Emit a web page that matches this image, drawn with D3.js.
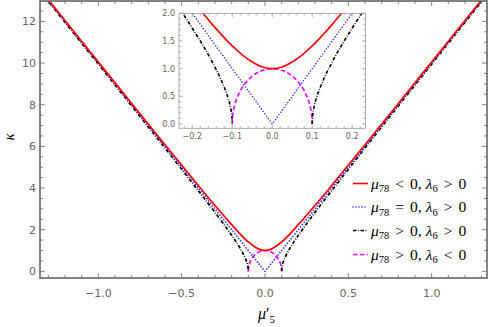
<!DOCTYPE html>
<html>
<head>
<meta charset="utf-8">
<script src="https://cdn.jsdelivr.net/npm/d3@7"></script>
<style>
  body { margin: 0; background: #fff; }
  .tick-label { font-family: 'DejaVu Sans', sans-serif; fill: #666; }
  .math { font-family: 'Liberation Serif', 'DejaVu Serif', serif; fill: #000; }
</style>
</head>
<body>
<div id="chart"></div>
<script>
// values: kappa against mu'_5 for four cases
var redMu = [-1.35, -1.0, -0.8, -0.6, -0.4, -0.3, -0.2, -0.15, -0.1, -0.075, -0.05, -0.025, 0,
             0.025, 0.05, 0.075, 0.1, 0.15, 0.2, 0.3, 0.4, 0.6, 0.8, 1.0, 1.35];
var redKappa = [13.54, 10.05, 8.06, 6.08, 4.12, 3.16, 2.24, 1.80, 1.41, 1.25, 1.12, 1.03, 1.0,
                1.03, 1.12, 1.25, 1.41, 1.80, 2.24, 3.16, 4.12, 6.08, 8.06, 10.05, 13.54];

var blueMu = [-1.35, 0, 1.35];
var blueKappa = [13.5, 0, 13.5];

var blackLeftMu = [-1.35, -1.0, -0.8, -0.6, -0.4, -0.3, -0.25, -0.2, -0.175, -0.15, -0.13, -0.12, -0.11, -0.105, -0.101, -0.1005, -0.1002, -0.1];
var blackLeftKappa = [13.46, 9.95, 7.94, 5.92, 3.87, 2.83, 2.29, 1.73, 1.44, 1.12, 0.83, 0.66, 0.46, 0.32, 0.142, 0.100, 0.063, 0];
var blackRightMu = [0.1, 0.1002, 0.1005, 0.101, 0.105, 0.11, 0.12, 0.13, 0.15, 0.175, 0.2, 0.25, 0.3, 0.4, 0.6, 0.8, 1.0, 1.35];
var blackRightKappa = [0, 0.063, 0.100, 0.142, 0.32, 0.46, 0.66, 0.83, 1.12, 1.44, 1.73, 2.29, 2.83, 3.87, 5.92, 7.94, 9.95, 13.46];

var magentaMu = [-0.1, -0.0998, -0.0995, -0.099, -0.095, -0.09, -0.08, -0.07, -0.06, -0.05, -0.04, -0.03, -0.02, -0.01, 0,
                 0.01, 0.02, 0.03, 0.04, 0.05, 0.06, 0.07, 0.08, 0.09, 0.095, 0.099, 0.0995, 0.0998, 0.1];
var magentaKappa = [0, 0.063, 0.100, 0.141, 0.312, 0.436, 0.600, 0.714, 0.800, 0.866, 0.917, 0.954, 0.980, 0.995, 1.0,
                    0.995, 0.980, 0.954, 0.917, 0.866, 0.800, 0.714, 0.600, 0.436, 0.312, 0.141, 0.100, 0.063, 0];

var mainXTicks = [-1.0, -0.5, 0.0, 0.5, 1.0];
var mainYTicks = [0, 2, 4, 6, 8, 10, 12];
var insetXTicks = [-0.2, -0.1, 0.0, 0.1, 0.2];
var insetYTicks = [0.0, 0.5, 1.0, 1.5, 2.0];

var legendLabels = [
  { mu: '78', rel: '<', rhs: '0', lam: '6', rel2: '>' },
  { mu: '78', rel: '=', rhs: '0', lam: '6', rel2: '>' },
  { mu: '78', rel: '>', rhs: '0', lam: '6', rel2: '>' },
  { mu: '78', rel: '>', rhs: '0', lam: '6', rel2: '<' }
];

var width = 491, height = 327;

var series = [
  { mu: redMu, k: redKappa, color: '#ff0000', dash: null, cap: 'butt', curve: d3.curveMonotoneX },
  { mu: blueMu, k: blueKappa, color: '#2b2bff', dash: '0,3', cap: 'round', curve: d3.curveLinear },
  { mu: blackLeftMu, k: blackLeftKappa, color: '#000', dash: '3.5,1.6,0.8,1.6', cap: 'butt', curve: d3.curveMonotoneX },
  { mu: blackRightMu, k: blackRightKappa, color: '#000', dash: '3.5,1.6,0.8,1.6', cap: 'butt', curve: d3.curveMonotoneX },
  { mu: magentaMu, k: magentaKappa, color: '#ff00ff', dash: '4.5,2.5', cap: 'butt', curve: d3.curveMonotoneX }
];

var svg = d3.select('#chart').append('svg')
  .attr('width', width)
  .attr('height', height);

// draw a framed panel with ticks on all four sides
function panel(opt) {
  var x = d3.scaleLinear().domain(opt.xDomain).range([opt.left, opt.right]);
  var y = d3.scaleLinear().domain(opt.yDomain).range([opt.bottom, opt.top]);
  var g = svg.append('g');

  g.append('rect')
    .attr('x', opt.left).attr('y', opt.top)
    .attr('width', opt.right - opt.left).attr('height', opt.bottom - opt.top)
    .attr('fill', '#fff');

  var defs = g.append('defs');
  defs.append('clipPath').attr('id', opt.id)
    .append('rect')
    .attr('x', opt.left).attr('y', opt.top)
    .attr('width', opt.right - opt.left).attr('height', opt.bottom - opt.top);

  var plot = g.append('g').attr('clip-path', 'url(#' + opt.id + ')');
  // draw order: dashed first, red on top
  [4, 3, 2, 1, 0].forEach(function (i) {
    var s = series[i];
    var line = d3.line()
      .x(function (d) { return x(d[0]); })
      .y(function (d) { return y(d[1]); })
      .curve(s.curve);
    var pts = s.mu.map(function (m, j) { return [m, s.k[j]]; });
    plot.append('path')
      .attr('d', line(pts))
      .attr('fill', 'none')
      .attr('stroke', s.color)
      .attr('stroke-width', opt.lw)
      .attr('stroke-linecap', s.cap)
      .attr('stroke-dasharray', s.dash);
  });

  var tg = g.append('g').attr('stroke', opt.frameColor).attr('stroke-width', 0.8);
  function ticks(domain, step) {
    var out = [];
    var n0 = Math.ceil(domain[0] / step - 1e-6), n1 = Math.floor(domain[1] / step + 1e-6);
    for (var n = n0; n <= n1; n++) out.push(+(n * step).toFixed(6));
    return out;
  }
  ticks(opt.xDomain, opt.xMinor).forEach(function (v) {
    var major = opt.xTicks.some(function (t) { return Math.abs(t - v) < 1e-6; });
    var len = major ? opt.majorLen : opt.minorLen;
    tg.append('line').attr('x1', x(v)).attr('x2', x(v)).attr('y1', opt.bottom).attr('y2', opt.bottom - len);
    tg.append('line').attr('x1', x(v)).attr('x2', x(v)).attr('y1', opt.top).attr('y2', opt.top + len);
  });
  ticks(opt.yDomain, opt.yMinor).forEach(function (v) {
    var major = opt.yTicks.some(function (t) { return Math.abs(t - v) < 1e-6; });
    var len = major ? opt.majorLen : opt.minorLen;
    tg.append('line').attr('y1', y(v)).attr('y2', y(v)).attr('x1', opt.left).attr('x2', opt.left + len);
    tg.append('line').attr('y1', y(v)).attr('y2', y(v)).attr('x1', opt.right).attr('x2', opt.right - len);
  });

  g.append('rect')
    .attr('x', opt.left).attr('y', opt.top)
    .attr('width', opt.right - opt.left).attr('height', opt.bottom - opt.top)
    .attr('fill', 'none')
    .attr('stroke', opt.frameColor)
    .attr('stroke-width', opt.frameWidth);

  g.selectAll('text.xl').data(opt.xTicks).enter().append('text')
    .attr('class', 'tick-label')
    .attr('x', function (d) { return x(d); })
    .attr('y', opt.bottom + opt.xLabelGap)
    .attr('text-anchor', 'middle')
    .style('font-size', opt.fontSize + 'px')
    .text(function (d) { return d3.format('.1f')(d).replace('-', '\u2212'); });

  g.selectAll('text.yl').data(opt.yTicks).enter().append('text')
    .attr('class', 'tick-label')
    .attr('x', opt.left - opt.yLabelGap)
    .attr('y', function (d) { return y(d); })
    .attr('dy', '0.36em')
    .attr('text-anchor', 'end')
    .style('font-size', opt.fontSize + 'px')
    .text(function (d) { return opt.yFormat(d); });

  return { x: x, y: y, g: g };
}

panel({
  id: 'clipMain', left: 40, right: 487, top: 1, bottom: 278,
  xDomain: [-1.35, 1.332], yDomain: [-0.32, 12.98],
  xTicks: mainXTicks, yTicks: mainYTicks, xMinor: 0.1, yMinor: 0.5,
  majorLen: 5, minorLen: 3, lw: 1.7, frameColor: '#666', frameWidth: 1.6,
  fontSize: 11, xLabelGap: 19, yLabelGap: 4, yFormat: d3.format('d')
});

panel({
  id: 'clipInset', left: 179, right: 365.5, top: 13.3, bottom: 128.3,
  xDomain: [-0.2333, 0.2333], yDomain: [-0.078, 2.0],
  xTicks: insetXTicks, yTicks: insetYTicks, xMinor: 0.02, yMinor: 0.1,
  majorLen: 3.5, minorLen: 2, lw: 1.6, frameColor: '#999', frameWidth: 0.8,
  fontSize: 8, xLabelGap: 11, yLabelGap: 4, yFormat: d3.format('.1f')
});

// axis titles
svg.append('text')
  .attr('class', 'math')
  .attr('transform', 'translate(14,137) rotate(-90)')
  .attr('text-anchor', 'middle')
  .style('font-size', '15px')
  .style('font-style', 'italic')
  .text('\u03ba');

var xt = svg.append('text')
  .attr('class', 'math')
  .attr('x', 258).attr('y', 319)
  .style('font-size', '16px');
xt.append('tspan').style('font-style', 'italic').text('\u03bc');
xt.append('tspan').text('\u2032');
xt.append('tspan').attr('dx', 0).attr('dy', 4).style('font-size', '11px').text('5');

// legend
var legendY = [183.5, 207, 230.5, 254.5];
var lg = svg.append('g');
legendLabels.forEach(function (d, i) {
  var s = series[i === 3 ? 4 : i];
  lg.append('line')
    .attr('x1', 353).attr('x2', 368)
    .attr('y1', legendY[i]).attr('y2', legendY[i])
    .attr('stroke', s.color)
    .attr('stroke-width', 1.6)
    .attr('stroke-linecap', s.cap)
    .attr('stroke-dasharray', s.dash);
  var t = lg.append('text')
    .attr('class', 'math')
    .attr('x', 371).attr('y', legendY[i] + 5)
    .style('font-size', '15.5px');
  t.append('tspan').style('font-style', 'italic').text('\u03bc');
  t.append('tspan').attr('dy', 3.5).style('font-size', '10.5px').text(d.mu);
  t.append('tspan').attr('dy', -3.5).attr('dx', 6).text(d.rel);
  t.append('tspan').attr('dx', 6).text(d.rhs + ',');
  t.append('tspan').attr('dx', 4).style('font-style', 'italic').text('\u03bb');
  t.append('tspan').attr('dy', 3.5).style('font-size', '10.5px').text(d.lam);
  t.append('tspan').attr('dy', -3.5).attr('dx', 6).text(d.rel2);
  t.append('tspan').attr('dx', 6).text(d.rhs);
});
</script>
</body>
</html>
